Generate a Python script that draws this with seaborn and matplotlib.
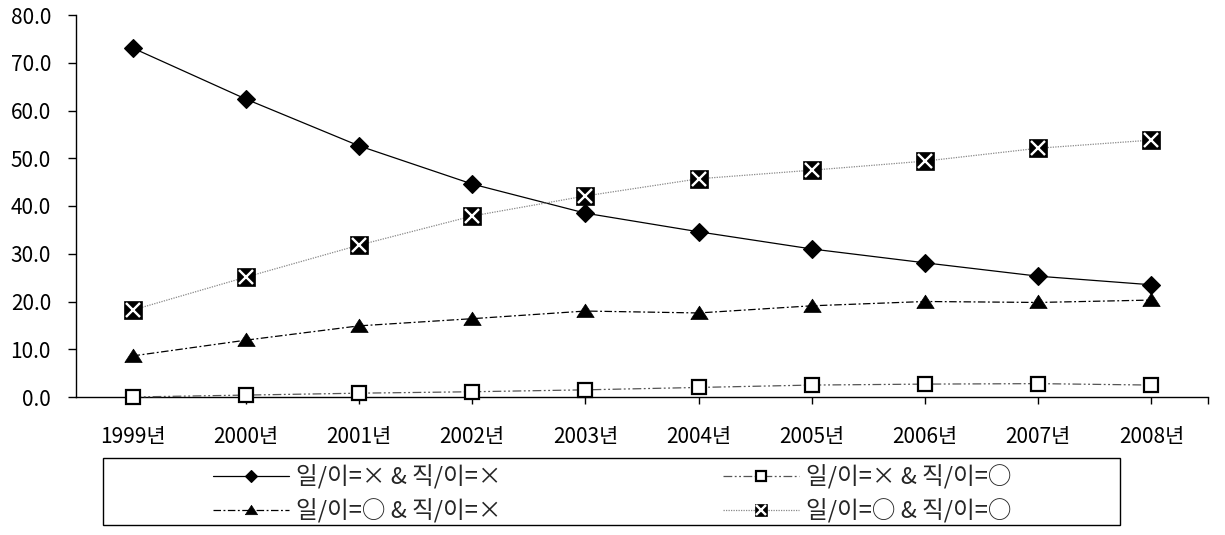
import numpy as np
import pandas as pd
import matplotlib
matplotlib.use("Agg")
import matplotlib.pyplot as plt
import seaborn as sns
from matplotlib.patches import Rectangle
from matplotlib.legend_handler import HandlerTuple

years = ["1999년", "2000년", "2001년", "2002년", "2003년", "2004년", "2005년", "2006년", "2007년", "2008년"]
s1_label = "일/이=× & 직/이=×"
s2_label = "일/이=× & 직/이=○"
s3_label = "일/이=○ & 직/이=×"
s4_label = "일/이=○ & 직/이=○"
s1 = [73.1, 62.4, 52.6, 44.6, 38.5, 34.6, 31.0, 28.1, 25.3, 23.5]
s2 = [0.0, 0.4, 0.8, 1.1, 1.5, 2.0, 2.5, 2.7, 2.8, 2.5]
s3 = [8.6, 11.9, 14.9, 16.4, 18.0, 17.6, 19.1, 20.0, 19.8, 20.3]
s4 = [18.2, 25.1, 31.8, 37.9, 42.1, 45.7, 47.5, 49.4, 52.1, 53.8]
yticks = [0, 10, 20, 30, 40, 50, 60, 70, 80]

sns.set_theme(style="white")
plt.rcParams["font.family"] = ["Noto Sans CJK KR", "DejaVu Sans"]
plt.rcParams["axes.unicode_minus"] = False

fig = plt.figure(figsize=(12.25, 5.35), dpi=100)
ax = fig.add_axes([76 / 1225, 1 - 397 / 535, (1208 - 76) / 1225, (397 - 15) / 535])

pos = np.arange(len(years))
df = pd.DataFrame({"pos": pos, "s1": s1, "s2": s2, "s3": s3, "s4": s4})

wide_triangle = [(-1.3, -0.9), (1.3, -0.9), (0, 1.1), (-1.3, -0.9)]

common = dict(clip_on=False, linewidth=0.9)
h1 = sns.lineplot(data=df, x="pos", y="s1", ax=ax, color="black", linestyle="-",
                  marker="D", markersize=9, markerfacecolor="black",
                  markeredgecolor="black", markeredgewidth=0.8, zorder=4, **common).lines[-1]
h2 = sns.lineplot(data=df, x="pos", y="s2", ax=ax, color="#555555",
                  linestyle=(0, (7, 2, 1.5, 2, 1.5, 2)),
                  marker="s", markersize=10, markerfacecolor="white",
                  markeredgecolor="black", markeredgewidth=1.6, zorder=3, **common).lines[-1]
h3 = sns.lineplot(data=df, x="pos", y="s3", ax=ax, color="black",
                  linestyle=(0, (6, 2, 1.5, 2)),
                  marker=wide_triangle, markersize=12.5, markerfacecolor="black",
                  markeredgecolor="black", markeredgewidth=0.5, zorder=3, **common).lines[-1]
h4 = sns.lineplot(data=df, x="pos", y="s4", ax=ax, color="#888888",
                  linestyle=(0, (1, 1)),
                  marker="s", markersize=12.5, markerfacecolor="black",
                  markeredgecolor="black", markeredgewidth=0.5, zorder=5, **common).lines[-1]
h4x = sns.lineplot(data=df, x="pos", y="s4", ax=ax, color="white", linestyle="none",
                   marker="x", markersize=10.5, markeredgecolor="white",
                   markeredgewidth=1.7, zorder=6, clip_on=False).lines[-1]

ax.set_xlim(-0.5, len(years) - 0.5)
ax.set_ylim(0, 80)
ax.set_xlabel("")
ax.set_ylabel("")
ax.set_xticks(pos)
ax.set_xticklabels(years)
ax.set_xticks([len(years) - 0.5], minor=True)
ax.set_yticks(yticks)
ax.set_yticklabels([f"{v:.1f}" for v in yticks])
for side in ["top", "right"]:
    ax.spines[side].set_visible(False)
for side in ["left", "bottom"]:
    ax.spines[side].set_color("black")
    ax.spines[side].set_linewidth(1.0)
ax.tick_params(axis="x", which="both", direction="out", length=5, width=1, color="black",
               bottom=True, pad=16, labelsize=15, labelcolor="black")
ax.tick_params(axis="y", direction="out", length=6, width=1, color="black",
               left=True, pad=12, labelsize=15, labelcolor="black")
ax.grid(False)

# legend frame
fig.patches.append(Rectangle((103 / 1225, 1 - 525 / 535), 1017 / 1225, 67 / 535,
                             transform=fig.transFigure, fill=False,
                             edgecolor="black", linewidth=1.0))
fig.legend([h1, h3, h2, (h4, h4x)], [s1_label, s3_label, s2_label, s4_label],
           loc="center", bbox_to_anchor=(0.500, 0.076), ncol=2, frameon=False,
           fontsize=17, handlelength=3.2, handletextpad=0.3, columnspacing=9.4,
           labelspacing=0.42, markerscale=0.7,
           handler_map={tuple: HandlerTuple(ndivide=1, pad=0)})

fig.savefig("out.png", dpi=100, facecolor="white")
